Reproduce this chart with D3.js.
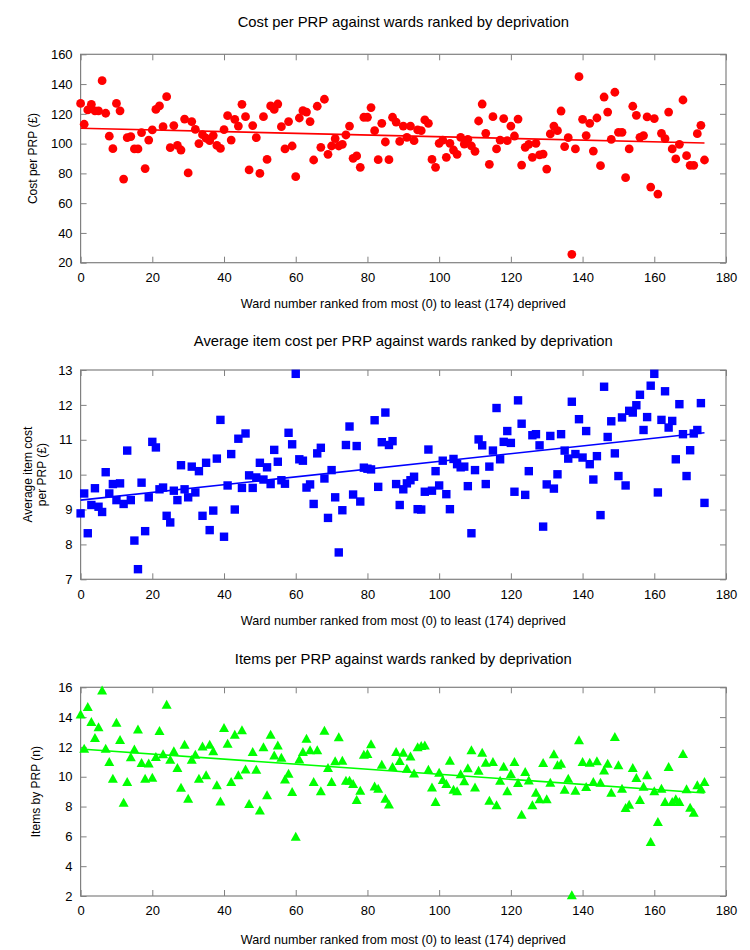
<!DOCTYPE html>
<html>
<head>
<meta charset="utf-8">
<script src="https://cdn.jsdelivr.net/npm/d3@7"></script>
<style>
  body { margin: 0; background: #fff; }
  text { font-family: "Liberation Sans", Arial, sans-serif; fill: #000; }
</style>
</head>
<body>
<div id="chart"></div>
<script>
/* =====================================================
 * DATA — one value per ward, ward number = index (0..174)
 * ===================================================== */
const costPerPRP = [
  127, 113, 122.6, 126.4, 122, 122, 142.3, 120.4, 105, 96.6,
  127, 122, 76.2, 104, 104.7, 96.4, 96.4, 107.4, 83.2, 102.4,
  109.2, 123, 125.3, 111.4, 131.5, 97.3, 112.1, 98.8, 95.7, 116.5,
  80.3, 114.8, 109.6, 100, 106, 103.6, 102, 105.4, 98.8, 96.8,
  109.4, 118.8, 102.4, 116.3, 111.8, 126.4, 118.1, 82.3, 112.1, 104,
  80, 118.1, 89.4, 125.3, 123, 126.6, 111.4, 96.4, 114.8, 98.4,
  77.8, 117.2, 122.1, 121.2, 114.8, 89, 125.1, 97.5, 129.8, 92.8,
  98.4, 103.3, 98.4, 99.5, 105.8, 111.8, 90.1, 91.7, 84.1, 117.7,
  117.7, 124.2, 108.7, 89.2, 113.6, 101.1, 89.2, 117.7, 114.5, 101.5,
  111.8, 104.2, 111.8, 102, 109.2, 108.7, 115.9, 113.6, 89.4, 84.1,
  100.2, 102.4, 90.8, 100.2, 95.7, 92.8, 104.2, 99.7, 102.9, 98.4,
  94.8, 115.2, 126.6, 106.9, 86.1, 118.1, 96.4, 102.4, 116.8, 102,
  111.8, 105.1, 116.5, 85.6, 97.5, 99.5, 90.8, 100.2, 92.4, 93,
  82.9, 106.5, 111.8, 108.7, 121.9, 98, 104, 25.6, 96.4, 145,
  116.3, 105.4, 113.6, 95, 117.2, 85.2, 131.3, 121.2, 102.9, 134.5,
  107.6, 107.6, 77.1, 96.4, 125.1, 119, 104.2, 105.4, 117.9, 70.8,
  116.8, 66.1, 106.9, 103.3, 121.2, 96.4, 89.7, 99.5, 129.3, 91.9,
  85.4, 85.4, 106.7, 112.3, 89
];

const itemCostPerPRP = [
  8.89, 9.46, 8.32, 9.13, 9.61, 9.08, 8.93, 10.07, 9.46, 9.73,
  9.27, 9.75, 9.16, 10.69, 9.27, 8.11, 7.29, 9.77, 8.38, 9.35,
  10.94, 10.78, 9.58, 9.63, 8.82, 8.63, 9.54, 9.27, 10.27, 9.58,
  9.35, 10.23, 9.49, 10.1, 8.82, 10.34, 8.41, 8.97, 10.46, 11.57,
  8.22, 9.69, 10.59, 9.0, 11.03, 9.62, 11.18, 9.98, 9.62, 9.92,
  10.34, 9.86, 10.21, 9.73, 10.71, 10.37, 9.84, 9.74, 11.2, 10.87,
  12.89, 10.44, 10.4, 9.63, 9.72, 9.16, 10.61, 10.77, 9.89, 8.76,
  10.13, 9.35, 7.77, 8.98, 10.85, 11.38, 9.43, 10.82, 9.23, 10.2,
  10.17, 10.15, 11.56, 9.65, 10.93, 11.78, 10.85, 10.96, 9.73, 9.13,
  9.58, 9.75, 9.84, 9.94, 9.01, 9.0, 9.51, 10.72, 9.54, 10.1,
  9.69, 10.4, 9.44, 9.01, 10.45, 10.3, 10.21, 10.23, 9.67, 8.32,
  10.13, 11.01, 10.84, 9.73, 10.23, 10.69, 11.91, 10.44, 10.94, 11.25,
  10.91, 9.51, 12.13, 11.46, 9.42, 10.1, 11.13, 11.16, 10.84, 8.51,
  9.72, 11.11, 9.6, 10.01, 11.16, 10.69, 10.46, 12.09, 10.59, 11.59,
  10.49, 11.25, 10.3, 9.86, 10.53, 8.84, 12.52, 11.08, 11.53, 10.61,
  9.96, 11.64, 9.69, 11.83, 11.78, 11.99, 12.29, 11.28, 11.65, 12.55,
  12.89, 9.49, 11.57, 12.39, 11.35, 11.54, 10.44, 12.02, 11.16, 9.96,
  10.7, 11.18, 11.28, 12.05, 9.19
];

const itemsPerPRP = [
  14.21, 11.91, 14.7, 13.7, 12.62, 13.34, 15.82, 11.91, 11.01, 9.9,
  13.65, 12.49, 8.29, 9.67, 11.33, 11.86, 13.2, 10.95, 9.9, 10.92,
  9.96, 11.35, 13.09, 11.53, 14.86, 11.17, 11.73, 10.61, 9.29, 12.18,
  8.55, 11.17, 11.51, 9.9, 12.06, 10.12, 12.18, 11.73, 9.45, 8.37,
  13.29, 12.24, 9.67, 12.85, 10.12, 13.14, 10.52, 8.2, 11.68, 10.5,
  7.77, 12.0, 8.78, 12.85, 11.46, 12.13, 11.3, 9.85, 10.23, 9.0,
  6.0, 11.19, 11.68, 12.58, 11.8, 9.67, 11.8, 9.05, 13.12, 10.61,
  9.67, 11.06, 12.67, 11.1, 9.76, 9.76, 9.54, 8.46, 9.09, 11.51,
  11.55, 12.2, 9.38, 9.22, 10.83, 8.55, 8.17, 10.68, 11.68, 11.08,
  11.64, 10.57, 11.39, 10.25, 12.0, 12.09, 12.13, 10.5, 9.31, 8.33,
  10.3, 9.81, 9.54, 11.1, 9.16, 9.05, 10.19, 9.72, 10.59, 11.8,
  9.31, 10.43, 11.64, 10.97, 8.42, 11.01, 8.11, 9.76, 10.7, 9.05,
  10.21, 11.01, 9.6, 7.48, 10.34, 9.78, 8.11, 8.96, 8.51, 10.95,
  8.51, 9.63, 11.53, 10.79, 10.9, 9.16, 9.9, 2.07, 9.09, 12.47,
  11.01, 9.34, 10.97, 9.67, 11.06, 9.63, 10.45, 10.9, 8.96, 12.69,
  10.79, 9.22, 7.93, 8.15, 10.61, 9.94, 8.46, 9.36, 10.12, 5.65,
  9.05, 6.99, 9.22, 8.33, 10.68, 8.33, 8.51, 8.33, 11.55, 9.18,
  7.95, 7.61, 9.45, 9.22, 9.67
];

// Linear trend lines, value at first and last ward
const trendWards = [0, 174];
const costTrend = [110.3, 100.4];
const itemCostTrend = [9.27, 11.2];
const itemsTrend = [11.86, 8.91];

// Axis ticks
const xTicks = [0, 20, 40, 60, 80, 100, 120, 140, 160, 180];
const costTicks = [20, 40, 60, 80, 100, 120, 140, 160];
const itemCostTicks = [7, 8, 9, 10, 11, 12, 13];
const itemsTicks = [2, 4, 6, 8, 10, 12, 14, 16];

const titles = [
  "Cost per PRP against wards ranked by deprivation",
  "Average item cost per PRP against wards ranked by deprivation",
  "Items per PRP against wards ranked by deprivation"
];
const yLabels = [
  ["Cost per PRP (£)"],
  ["Average item cost", "per PRP (£)"],
  ["Items by PRP (n)"]
];
const xLabel = "Ward number ranked from most (0) to least (174) deprived";

/* =====================================================
 * LAYOUT
 * ===================================================== */
const W = 750, H = 950;
const plotLeft = 80.6, plotRight = 726;
const FRAME = "#808080";

const panels = [
  { top: 54.3, bottom: 262.7, titleY: 27, xLabelY: 308, yLabelX: [37],
    values: costPerPRP, domain: [20, 160], ticks: costTicks, trend: costTrend,
    color: "#ff0000", marker: "circle" },
  { top: 370, bottom: 579.3, titleY: 346, xLabelY: 625, yLabelX: [32, 46],
    values: itemCostPerPRP, domain: [7, 13], ticks: itemCostTicks, trend: itemCostTrend,
    color: "#0000ff", marker: "square" },
  { top: 687.3, bottom: 896, titleY: 664, xLabelY: 944, yLabelX: [40],
    values: itemsPerPRP, domain: [2, 16], ticks: itemsTicks, trend: itemsTrend,
    color: "#00ff00", marker: "triangle" }
];

const svg = d3.select("#chart")
  .append("svg")
  .attr("width", W)
  .attr("height", H)
  .attr("viewBox", `0 0 ${W} ${H}`);

const x = d3.scaleLinear().domain([0, 180]).range([plotLeft, plotRight]);
const fmt = d3.format("d");

/* =====================================================
 * PANELS
 * ===================================================== */
panels.forEach((p, k) => {
  const y = d3.scaleLinear().domain(p.domain).range([p.bottom, p.top]);
  const g = svg.append("g");

  // axes, ticks pointing inward on all four sides
  const styleAxis = sel => {
    sel.select(".domain").remove();
    sel.selectAll(".tick line").attr("stroke", FRAME);
    sel.selectAll("text").attr("font-size", 13).attr("fill", "#000");
  };

  g.append("g")
    .attr("transform", `translate(0,${p.bottom})`)
    .call(d3.axisBottom(x).tickValues(xTicks).tickFormat(fmt)
      .tickSizeInner(-6).tickSizeOuter(0).tickPadding(10))
    .call(styleAxis);

  g.append("g")
    .attr("transform", `translate(0,${p.top})`)
    .call(d3.axisTop(x).tickValues(xTicks).tickSizeInner(-6).tickSizeOuter(0).tickFormat(""))
    .call(styleAxis);

  g.append("g")
    .attr("transform", `translate(${plotLeft},0)`)
    .call(d3.axisLeft(y).tickValues(p.ticks).tickFormat(fmt)
      .tickSizeInner(-6).tickSizeOuter(0).tickPadding(8))
    .call(styleAxis);

  g.append("g")
    .attr("transform", `translate(${plotRight},0)`)
    .call(d3.axisRight(y).tickValues(p.ticks).tickSizeInner(-6).tickSizeOuter(0).tickFormat(""))
    .call(styleAxis);

  g.append("rect")
    .attr("x", plotLeft)
    .attr("y", p.top)
    .attr("width", plotRight - plotLeft)
    .attr("height", p.bottom - p.top)
    .attr("fill", "none")
    .attr("stroke", FRAME)
    .attr("stroke-width", 1.2);

  // trend line
  g.append("line")
    .attr("x1", x(trendWards[0]))
    .attr("y1", y(p.trend[0]))
    .attr("x2", x(trendWards[1]))
    .attr("y2", y(p.trend[1]))
    .attr("stroke", p.color)
    .attr("stroke-width", 1.6);

  // markers
  const pts = g.append("g")
    .selectAll("g")
    .data(p.values)
    .enter()
    .append("g")
    .attr("transform", (d, i) => `translate(${x(i)},${y(d)})`);

  if (p.marker === "circle") {
    pts.append("circle").attr("r", 4.4).attr("fill", p.color);
  } else if (p.marker === "square") {
    pts.append("rect")
      .attr("x", -4.2).attr("y", -4.2)
      .attr("width", 8.4).attr("height", 8.4)
      .attr("fill", p.color);
  } else {
    pts.append("path").attr("d", "M0,-4.6L5,4.4L-5,4.4Z").attr("fill", p.color);
  }

  // titles
  svg.append("text")
    .attr("x", (plotLeft + plotRight) / 2)
    .attr("y", p.titleY)
    .attr("text-anchor", "middle")
    .attr("font-size", 14.8)
    .text(titles[k]);

  svg.append("text")
    .attr("x", (plotLeft + plotRight) / 2)
    .attr("y", p.xLabelY)
    .attr("text-anchor", "middle")
    .attr("font-size", 12.6)
    .text(xLabel);

  const midY = (p.top + p.bottom) / 2;
  yLabels[k].forEach((line, j) => {
    svg.append("text")
      .attr("transform", `translate(${p.yLabelX[j]},${midY}) rotate(-90)`)
      .attr("text-anchor", "middle")
      .attr("font-size", 12)
      .text(line);
  });
});
</script>
</body>
</html>
